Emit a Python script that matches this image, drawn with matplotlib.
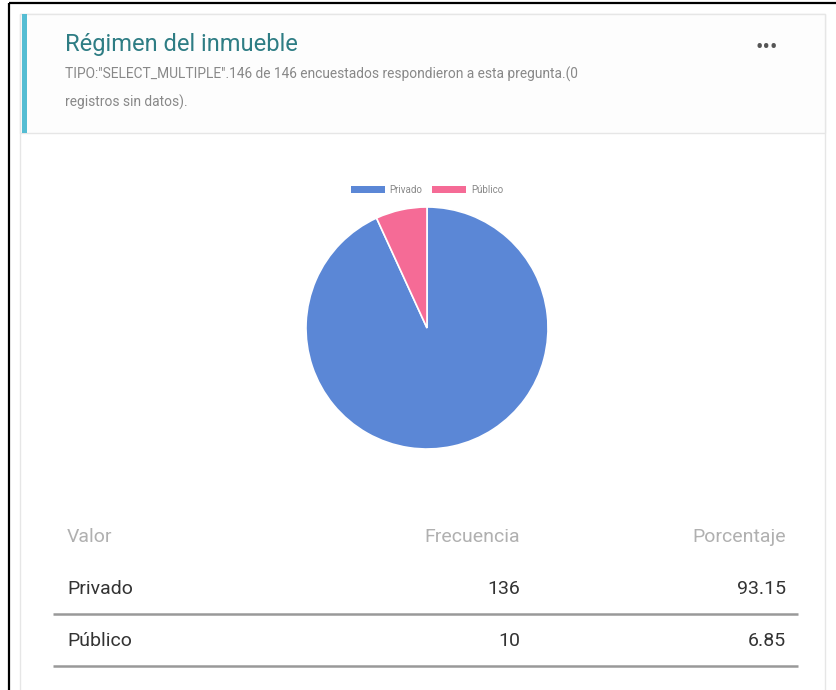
import matplotlib
matplotlib.use("Agg")
import matplotlib.pyplot as plt
from matplotlib.patches import Rectangle

plt.rcParams['font.family'] = ['Roboto', 'DejaVu Sans']

# survey answers
labels = ["Privado", "Público"]
counts = [136, 10]
percents = [93.15, 6.85]
colors = ["#5b87d6", "#f56b96"]

title = "Régimen del inmueble"
subtitle = ['TIPO:"SELECT_MULTIPLE".146 de 146 encuestados respondieron a esta pregunta.(0',
            'registros sin datos).']
headers = ["Valor", "Frecuencia", "Porcentaje"]

W, H = 836, 690
fig = plt.figure(figsize=(W / 100, H / 100), dpi=100)
fig.patch.set_facecolor("white")

# full-figure axes in pixel units (y down) for the card, texts and table
bg = fig.add_axes([0, 0, 1, 1])
bg.set_xlim(0, W)
bg.set_ylim(H, 0)
bg.axis("off")

# outer frame lines
bg.plot([9, 9], [3, H], color="black", lw=1.6, solid_capstyle="butt")
bg.plot([9, W], [3, 3], color="black", lw=1.6, solid_capstyle="butt")

# card
bg.add_patch(Rectangle((20, 14), 805, 700, facecolor="white", edgecolor="#e6e6e6", lw=1))
bg.add_patch(Rectangle((20, 14), 805, 119, facecolor="#fdfdfd", edgecolor="#e6e6e6", lw=1))
bg.add_patch(Rectangle((22, 14), 5, 119, facecolor="#55bdd3", edgecolor="none"))

bg.text(65, 45, title, fontsize=17, color="#2e7d84", va="center", ha="left")
bg.text(65, 74, subtitle[0], fontsize=9.9, color="#888888", va="center", ha="left")
bg.text(65, 102, subtitle[1], fontsize=9.9, color="#888888", va="center", ha="left")
bg.text(767, 49, "•••", fontsize=16, color="#555555", va="center", ha="center")

# table
col_x = [67, 520, 786]
col_ha = ["left", "right", "right"]
for x, ha, h in zip(col_x, col_ha, headers):
    bg.text(x, 537, h, fontsize=14, color="#b0b0b0", va="center", ha=ha)

row_y = [589, 641]
for i, y in enumerate(row_y):
    vals = [labels[i], str(counts[i]), "%.2f" % percents[i]]
    for x, ha, v in zip(col_x, col_ha, vals):
        bg.text(x, y, v, fontsize=14, color="#333333", va="center", ha=ha)
    bg.plot([53, 798], [y + 25, y + 25], color="#999999", lw=1.8, solid_capstyle="butt")

# pie
cx, cy, r = 427, 328, 121
pie_ax = fig.add_axes([(cx - r) / W, 1 - (cy + r) / H, 2 * r / W, 2 * r / H])
wedges, _ = pie_ax.pie(counts, colors=colors, startangle=90, counterclock=False,
                       radius=1.0, wedgeprops=dict(edgecolor="white", linewidth=1.2))
pie_ax.set_xlim(-1, 1)
pie_ax.set_ylim(-1, 1)
pie_ax.set_aspect("auto")

# legend keys without the white wedge edge
keys = [Rectangle((0, 0), 1, 1, facecolor=c, edgecolor="none") for c in colors]
bg.legend(keys, labels, loc="center", bbox_to_anchor=(427, 190), bbox_transform=bg.transData,
          ncol=2, frameon=False, fontsize=7, handlelength=3.5, handleheight=0.8,
          columnspacing=1.0, handletextpad=0.5, labelcolor="#888888")

fig.savefig("out.png", dpi=100)
